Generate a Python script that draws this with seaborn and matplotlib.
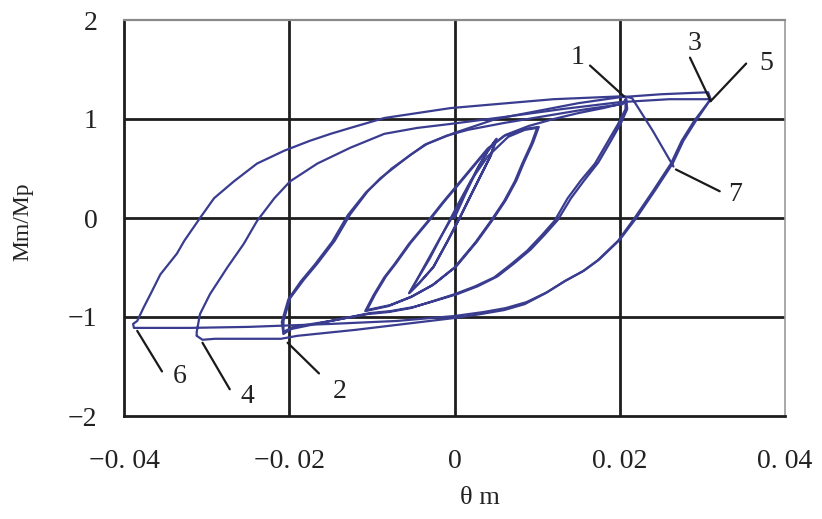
import numpy as np
import pandas as pd
import matplotlib
matplotlib.use("Agg")
import matplotlib.pyplot as plt
import seaborn as sns

# ---------------- data ----------------
# cycle A : small cycles (+-0.005 rad), two loops
small_theta = [0.0, 0.0013, 0.0028, 0.0040, 0.0050,
               0.0043, 0.0031, 0.0019, 0.0006, -0.0009, -0.0026, -0.0043, -0.0055,
               -0.0046, -0.0032, -0.0018, -0.0002, 0.0013, 0.0029, 0.0041, 0.0051,
               0.0044, 0.0032, 0.0020, 0.0007, -0.0008, -0.0025, -0.0042, -0.0054]
small_m = [0.0, 0.24, 0.50, 0.67, 0.79,
           0.62, 0.42, 0.22, 0.00, -0.24, -0.50, -0.66, -0.76,
           -0.63, -0.42, -0.21, 0.02, 0.26, 0.52, 0.69, 0.80,
           0.63, 0.43, 0.23, 0.01, -0.23, -0.49, -0.65, -0.75]

# cycle B : +-0.01 rad, two loops
c10_theta = [-0.0054, -0.0045, -0.0030, -0.0012, 0.0005, 0.0020, 0.0040, 0.0065, 0.0085, 0.0100,
             0.0093, 0.0082, 0.0073, 0.0060, 0.0044, 0.0025, 0.0000, -0.0027, -0.0053, -0.0080, -0.0108,
             -0.0098, -0.0085, -0.0073, -0.0055, -0.0033, -0.0015, 0.0000, 0.0020, 0.0040, 0.0060, 0.0085, 0.0102,
             0.0095, 0.0084, 0.0075, 0.0062, 0.0046, 0.0027, 0.0002, -0.0025, -0.0051, -0.0078, -0.0106]
c10_m = [-0.75, -0.62, -0.41, -0.12, 0.15, 0.38, 0.62, 0.82, 0.89, 0.91,
         0.75, 0.55, 0.37, 0.17, -0.03, -0.25, -0.50, -0.68, -0.80, -0.89, -0.94,
         -0.78, -0.60, -0.47, -0.26, -0.04, 0.15, 0.30, 0.50, 0.70, 0.83, 0.90, 0.92,
         0.76, 0.56, 0.38, 0.18, -0.02, -0.24, -0.49, -0.67, -0.79, -0.88, -0.93]

# cycle C : +-0.02 rad, two loops
c20_theta = [-0.0106, -0.0096, -0.0083, -0.0071, -0.0053, -0.0031, -0.0013, 0.0002, 0.0022, 0.0042,
             0.0062, 0.0090, 0.0120, 0.0150, 0.0180, 0.0205, 0.0207,
             0.0207, 0.0198, 0.0184, 0.0170, 0.0153, 0.0137, 0.0121, 0.0105, 0.0088, 0.0068, 0.0048,
             0.0025, 0.0000, -0.0030, -0.0053, -0.0080, -0.0105, -0.0150, -0.0195, -0.0207,
             -0.0207, -0.0199, -0.0183, -0.0166, -0.0145, -0.0126, -0.0105, -0.0090, -0.0073, -0.0053,
             -0.0033, -0.0010, 0.0016, 0.0060, 0.0110, 0.0160, 0.0203, 0.0208,
             0.0209, 0.0201, 0.0188, 0.0174, 0.0157, 0.0141, 0.0125, 0.0109, 0.0092, 0.0072, 0.0052,
             0.0028, 0.0003, -0.0025, -0.0050, -0.0077, -0.0102, -0.0150, -0.0197, -0.0207]
c20_m = [-0.93, -0.77, -0.59, -0.46, -0.25, -0.03, 0.16, 0.31, 0.51, 0.71,
         0.84, 0.93, 1.00, 1.06, 1.11, 1.16, 1.20,
         1.10, 0.95, 0.75, 0.55, 0.38, 0.20, -0.03, -0.18, -0.33, -0.47, -0.60,
         -0.69, -0.77, -0.85, -0.91, -0.95, -0.97, -1.04, -1.10, -1.15,
         -1.04, -0.81, -0.63, -0.46, -0.23, 0.04, 0.27, 0.40, 0.51, 0.64,
         0.75, 0.83, 0.89, 0.96, 1.03, 1.10, 1.15, 1.20,
         1.10, 0.95, 0.76, 0.56, 0.38, 0.20, -0.02, -0.17, -0.32, -0.46, -0.59,
         -0.69, -0.77, -0.84, -0.90, -0.94, -0.96, -1.04, -1.12, -1.17]

# cycle D : +-0.03 rad (points 3 and 4)
c30_theta = [-0.0207, -0.0209, -0.0201, -0.0186, -0.0169, -0.0148, -0.0129, -0.0107, -0.0076, -0.0036,
             0.0000, 0.0050, 0.0100, 0.0150, 0.0200, 0.0250, 0.0307,
             0.0310, 0.0290, 0.0275, 0.0262, 0.0240, 0.0218, 0.0198, 0.0173, 0.0155, 0.0133, 0.0110,
             0.0085, 0.0060, 0.0032, 0.0000, -0.0070, -0.0120, -0.0190, -0.0210, -0.0290, -0.0305, -0.0312]
c30_m = [-1.17, -1.05, -0.82, -0.64, -0.47, -0.24, 0.03, 0.26, 0.50, 0.74,
         0.86, 1.00, 1.08, 1.16, 1.22, 1.25, 1.27,
         1.20, 0.98, 0.78, 0.55, 0.27, 0.00, -0.23, -0.43, -0.54, -0.64, -0.76,
         -0.87, -0.93, -0.97, -1.01, -1.08, -1.13, -1.19, -1.22, -1.22, -1.23, -1.19]

# final: from 4 to 5, 5 to 6, reloading and drop to 7
fin_theta = [-0.0312, -0.0312, -0.0308, -0.0296, -0.0275, -0.0255, -0.0239, -0.0218, -0.0199, -0.0166,
             -0.0126, -0.0085, -0.0045, -0.0005, 0.0060, 0.0130, 0.0200, 0.0260, 0.0310,
             0.0292, 0.0277, 0.0264, 0.0242, 0.0220, 0.0200, 0.0175, 0.0157, 0.0135, 0.0112, 0.0087,
             0.0062, 0.0035, 0.0000, -0.0070, -0.0150, -0.0250, -0.0320, -0.0388,
             -0.0389, -0.0384, -0.0376, -0.0368, -0.0356, -0.0336, -0.0327, -0.0308, -0.0291, -0.0267,
             -0.0239, -0.0206, -0.0175, -0.0150, -0.0126, -0.0085, -0.0045, -0.0005, 0.0050, 0.0120,
             0.0205, 0.0215, 0.0240, 0.0265]
fin_m = [-1.19, -1.15, -0.97, -0.77, -0.50, -0.26, -0.03, 0.20, 0.37, 0.55,
         0.71, 0.85, 0.91, 0.95, 1.02, 1.10, 1.17, 1.20, 1.20,
         0.98, 0.78, 0.55, 0.27, 0.00, -0.22, -0.42, -0.53, -0.63, -0.75, -0.85,
         -0.91, -0.95, -0.99, -1.04, -1.07, -1.10, -1.11, -1.11,
         -1.07, -1.04, -0.90, -0.77, -0.57, -0.36, -0.23, 0.00, 0.20, 0.37,
         0.55, 0.68, 0.78, 0.85, 0.91, 1.01, 1.06, 1.11, 1.15, 1.20,
         1.23, 1.21, 0.88, 0.52]

x_ticks = [-0.04, -0.02, 0.0, 0.02, 0.04]
x_tick_labels = ["\u22120. 04", "\u22120. 02", "0", "0. 02", "0. 04"]
y_ticks = [-2, -1, 0, 1, 2]
y_tick_labels = ["\u22122", "\u22121", "0", "1", "2"]

# annotation: label, point on curve, end of leader line, text position
ann_labels = ["1", "2", "3", "4", "5", "6", "7"]
ann_points = [(0.0205, 1.23), (-0.0202, -1.26), (0.0310, 1.18), (-0.0305, -1.26),
              (0.0310, 1.18), (-0.0384, -1.14), (0.0268, 0.49)]
ann_leader = [(0.0164, 1.54), (-0.0164, -1.57), (0.0285, 1.62), (-0.0272, -1.73),
              (0.0353, 1.56), (-0.0354, -1.55), (0.0321, 0.27)]
ann_text = [(0.0149, 1.62), (-0.0139, -1.75), (0.0291, 1.76), (-0.0251, -1.80),
            (0.0377, 1.56), (-0.0333, -1.60), (0.0340, 0.24)]

# ---------------- build table ----------------
frames = []
for name, th, mm in [("A", small_theta, small_m), ("B", c10_theta, c10_m),
                     ("C", c20_theta, c20_m), ("D", c30_theta, c30_m),
                     ("E", fin_theta, fin_m)]:
    frames.append(pd.DataFrame({"theta": th, "m": mm, "cycle": name,
                                "order": np.arange(len(th))}))
df = pd.concat(frames, ignore_index=True)

# ---------------- plot ----------------
sns.set_theme(style="white")
plt.rcParams["font.family"] = ["Liberation Serif", "DejaVu Serif"]

fig = plt.figure(figsize=(8.22, 5.19), dpi=100)
ax = fig.add_axes([124 / 822, 1 - 416 / 519, 661 / 822, 396 / 519])

line_color = "#3a3d8f"
grid_color = "#1e1e1e"

for v in [-0.02, 0.0, 0.02]:
    ax.axvline(v, color=grid_color, lw=2.0, zorder=1)
for v in [-1, 0, 1]:
    ax.axhline(v, color=grid_color, lw=2.0, zorder=1)

sns.lineplot(data=df, x="theta", y="m", units="cycle", estimator=None, sort=False,
             color=line_color, lw=1.6, ax=ax, legend=False, zorder=3)

ax.set_xlim(-0.04, 0.04)
ax.set_ylim(-2, 2)
ax.set_xticks(x_ticks)
ax.set_xticklabels(x_tick_labels, fontsize=20, color="#222222")
ax.set_yticks(y_ticks)
ax.set_yticklabels(y_tick_labels, fontsize=20, color="#222222")
ax.tick_params(axis="x", length=0, pad=24)
ax.tick_params(axis="y", length=0, pad=19)
ax.set_xlabel("")
ax.set_ylabel("")

for s in ["left", "bottom"]:
    ax.spines[s].set_color(grid_color)
    ax.spines[s].set_linewidth(2.0)
ax.spines["top"].set_color("#8a8a8a")
ax.spines["top"].set_linewidth(1.6)
ax.spines["right"].set_color("#9a9a9a")
ax.spines["right"].set_linewidth(1.2)

for lab, p, q, t in zip(ann_labels, ann_points, ann_leader, ann_text):
    ax.annotate("", xy=p, xytext=q,
                arrowprops=dict(arrowstyle="-", color="#1a1a1a", lw=1.6,
                                shrinkA=0, shrinkB=0), zorder=4)
    ax.text(t[0], t[1], lab, fontsize=20, color="#222222", ha="center", va="center")

fig.text(23 / 822, 1 - 222 / 519, "Mm/Mp", rotation=90, fontsize=17,
         ha="center", va="center", color="#222222")
fig.text(480 / 822, 1 - 498 / 519, "\u03b8 m", fontsize=19,
         ha="center", va="center", color="#222222")

fig.savefig("out.png", dpi=100, facecolor="white")
